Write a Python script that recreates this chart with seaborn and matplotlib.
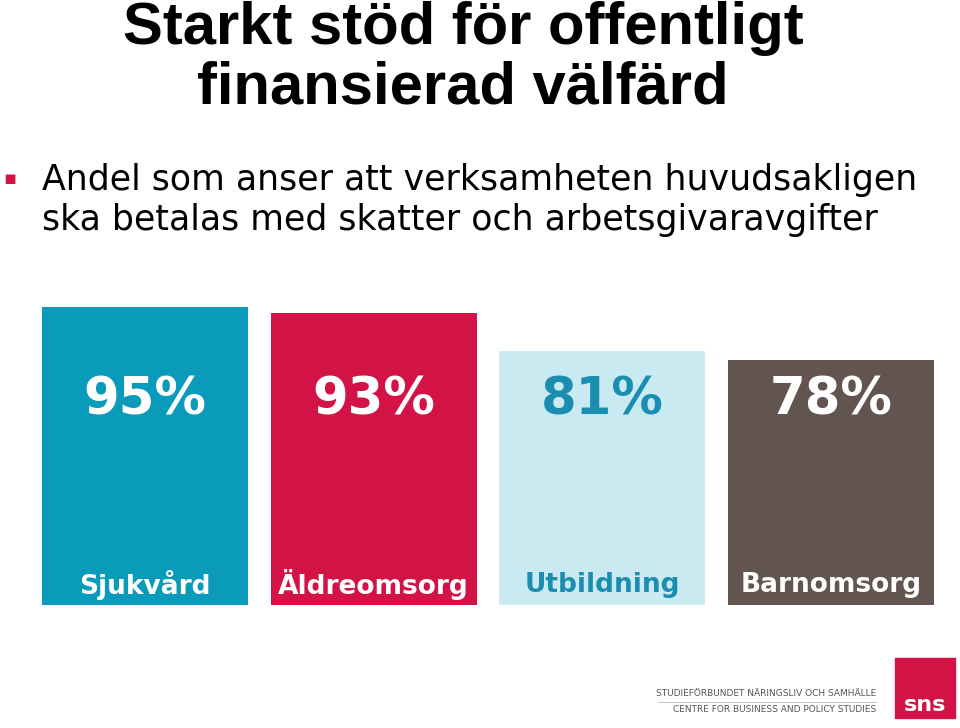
import matplotlib
matplotlib.use("Agg")
import matplotlib.pyplot as plt
import seaborn as sns
import pandas as pd

categories = ["Sjukvård", "Äldreomsorg", "Utbildning", "Barnomsorg"]
values = [95, 93, 81, 78]
labels = ["95%", "93%", "81%", "78%"]

colors = ["#0a9bbb", "#d31245", "#c9eaf1", "#625550"]
pct_colors = ["white", "white", "#1b8db1", "white"]
cat_colors = ["white", "white", "#1b8db1", "white"]

df = pd.DataFrame({"cat": categories, "val": values})

fig = plt.figure(figsize=(9.6, 7.28), dpi=100)
ax = fig.add_axes([42/960, 1-605/728, 892/960, 314/728])
sns.barplot(data=df, x="cat", y="val", hue="cat", palette=colors, width=0.9,
            legend=False, ax=ax, saturation=1)
ax.set_xlim(-0.45, 3.45)
ax.set_ylim(0, 100)
ax.axis("off")
for i, (lab, c, cc, cat) in enumerate(zip(labels, pct_colors, cat_colors, categories)):
    ax.text(i, 65, lab, ha="center", va="center", fontsize=37, fontweight="bold",
            color=c, family="DejaVu Sans")
    ax.text(i, 6.5, cat, ha="center", va="center", fontsize=19, fontweight="bold",
            color=cc, family="DejaVu Sans")

fig.text(463/960, 1-44/728, "Starkt stöd för offentligt", ha="center", va="baseline",
         fontsize=43, fontweight="bold", family="Liberation Sans")
fig.text(463/960, 1-104/728, "finansierad välfärd", ha="center", va="baseline",
         fontsize=43, fontweight="bold", family="Liberation Sans")
fig.text(10/960, 1-178/728, "▪", ha="center", va="center", fontsize=14, color="#d31245")
fig.text(42/960, 1-180/728, "Andel som anser att verksamheten huvudsakligen", ha="left",
         va="center", fontsize=25, family="DejaVu Sans")
fig.text(42/960, 1-220/728, "ska betalas med skatter och arbetsgivaravgifter", ha="left",
         va="center", fontsize=25, family="DejaVu Sans")

# logo
fig.text(876/960, 1-694/728, "STUDIEFÖRBUNDET NÄRINGSLIV OCH SAMHÄLLE", ha="right",
         va="center", fontsize=6.5, color="#555555")
fig.text(876/960, 1-710/728, "CENTRE FOR BUSINESS AND POLICY STUDIES", ha="right",
         va="center", fontsize=6.5, color="#555555")
fig.add_artist(plt.Line2D([658/960, 876/960], [1-702/728, 1-702/728], color="#bbbbbb", lw=0.6))
fig.add_artist(plt.Rectangle((895/960, 1-718/728), 60/960, 60/728, color="#d31245"))
fig.text(925/960, 1-705/728, "sns", ha="center", va="center", fontsize=16,
         fontweight="bold", color="white")

fig.savefig("out.png", dpi=100)
